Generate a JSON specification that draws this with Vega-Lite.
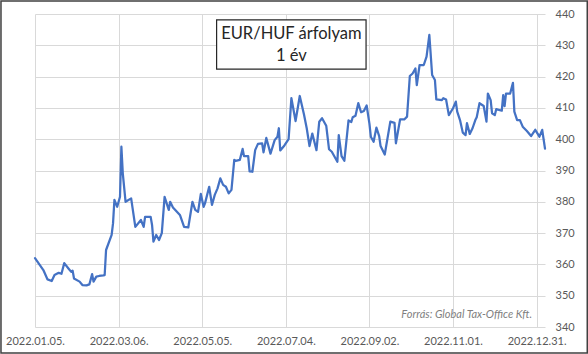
{
  "$schema": "https://vega.github.io/schema/vega-lite/v6.json",
  "width": 510,
  "height": 313,
  "autosize": {"type": "none"},
  "padding": {"left": 35, "top": 14, "right": 43, "bottom": 27},
  "background": "white",
  "config": {"view": {"stroke": null}, "font": "Lato"},
  "datasets": {
    "eurhuf": [
      {"date": "2022-01-05", "rate": 362.0},
      {"date": "2022-01-08", "rate": 360.1},
      {"date": "2022-01-11", "rate": 358.2},
      {"date": "2022-01-14", "rate": 355.2},
      {"date": "2022-01-17", "rate": 354.7},
      {"date": "2022-01-19", "rate": 356.6},
      {"date": "2022-01-22", "rate": 357.3},
      {"date": "2022-01-24", "rate": 357.0},
      {"date": "2022-01-26", "rate": 360.4},
      {"date": "2022-01-29", "rate": 358.7},
      {"date": "2022-01-31", "rate": 357.6},
      {"date": "2022-02-01", "rate": 358.0},
      {"date": "2022-02-02", "rate": 355.5},
      {"date": "2022-02-06", "rate": 354.5},
      {"date": "2022-02-08", "rate": 353.4},
      {"date": "2022-02-11", "rate": 353.3},
      {"date": "2022-02-13", "rate": 353.6},
      {"date": "2022-02-15", "rate": 356.9},
      {"date": "2022-02-16", "rate": 354.5},
      {"date": "2022-02-18", "rate": 356.1},
      {"date": "2022-02-20", "rate": 356.3},
      {"date": "2022-02-23", "rate": 356.5},
      {"date": "2022-02-24", "rate": 356.6},
      {"date": "2022-02-25", "rate": 364.6},
      {"date": "2022-03-01", "rate": 369.4},
      {"date": "2022-03-02", "rate": 373.1},
      {"date": "2022-03-03", "rate": 380.6},
      {"date": "2022-03-05", "rate": 378.4},
      {"date": "2022-03-07", "rate": 381.6},
      {"date": "2022-03-08", "rate": 397.6},
      {"date": "2022-03-09", "rate": 389.1},
      {"date": "2022-03-11", "rate": 380.0},
      {"date": "2022-03-15", "rate": 381.1},
      {"date": "2022-03-18", "rate": 372.0},
      {"date": "2022-03-22", "rate": 374.2},
      {"date": "2022-03-24", "rate": 372.0},
      {"date": "2022-03-25", "rate": 375.2},
      {"date": "2022-03-29", "rate": 375.2},
      {"date": "2022-03-30", "rate": 372.6},
      {"date": "2022-03-31", "rate": 367.3},
      {"date": "2022-04-02", "rate": 369.4},
      {"date": "2022-04-04", "rate": 367.8},
      {"date": "2022-04-06", "rate": 370.0},
      {"date": "2022-04-08", "rate": 381.6},
      {"date": "2022-04-11", "rate": 377.4},
      {"date": "2022-04-12", "rate": 380.0},
      {"date": "2022-04-14", "rate": 378.2},
      {"date": "2022-04-19", "rate": 375.8},
      {"date": "2022-04-22", "rate": 372.0},
      {"date": "2022-04-25", "rate": 371.8},
      {"date": "2022-04-28", "rate": 380.0},
      {"date": "2022-04-30", "rate": 377.4},
      {"date": "2022-05-02", "rate": 376.8},
      {"date": "2022-05-04", "rate": 382.5},
      {"date": "2022-05-06", "rate": 378.4},
      {"date": "2022-05-07", "rate": 379.5},
      {"date": "2022-05-10", "rate": 384.8},
      {"date": "2022-05-12", "rate": 379.0},
      {"date": "2022-05-14", "rate": 382.2},
      {"date": "2022-05-16", "rate": 384.3},
      {"date": "2022-05-18", "rate": 387.5},
      {"date": "2022-05-20", "rate": 385.4},
      {"date": "2022-05-22", "rate": 384.8},
      {"date": "2022-05-24", "rate": 382.7},
      {"date": "2022-05-26", "rate": 383.8},
      {"date": "2022-05-28", "rate": 393.4},
      {"date": "2022-05-29", "rate": 393.1},
      {"date": "2022-06-01", "rate": 393.4},
      {"date": "2022-06-03", "rate": 396.9},
      {"date": "2022-06-04", "rate": 394.6},
      {"date": "2022-06-07", "rate": 394.6},
      {"date": "2022-06-08", "rate": 389.7},
      {"date": "2022-06-10", "rate": 389.6},
      {"date": "2022-06-12", "rate": 396.5},
      {"date": "2022-06-14", "rate": 398.5},
      {"date": "2022-06-17", "rate": 398.7},
      {"date": "2022-06-18", "rate": 395.8},
      {"date": "2022-06-20", "rate": 400.4},
      {"date": "2022-06-23", "rate": 395.4},
      {"date": "2022-06-26", "rate": 399.7},
      {"date": "2022-06-28", "rate": 400.8},
      {"date": "2022-06-29", "rate": 403.5},
      {"date": "2022-06-30", "rate": 396.4},
      {"date": "2022-07-03", "rate": 398.0},
      {"date": "2022-07-06", "rate": 400.0},
      {"date": "2022-07-08", "rate": 413.1},
      {"date": "2022-07-11", "rate": 405.8},
      {"date": "2022-07-14", "rate": 413.8},
      {"date": "2022-07-17", "rate": 408.0},
      {"date": "2022-07-19", "rate": 403.5},
      {"date": "2022-07-21", "rate": 397.8},
      {"date": "2022-07-23", "rate": 401.8},
      {"date": "2022-07-26", "rate": 396.5},
      {"date": "2022-07-28", "rate": 405.6},
      {"date": "2022-07-30", "rate": 406.7},
      {"date": "2022-08-02", "rate": 404.3},
      {"date": "2022-08-04", "rate": 396.8},
      {"date": "2022-08-06", "rate": 396.0},
      {"date": "2022-08-10", "rate": 392.8},
      {"date": "2022-08-11", "rate": 401.3},
      {"date": "2022-08-13", "rate": 394.6},
      {"date": "2022-08-15", "rate": 393.1},
      {"date": "2022-08-18", "rate": 406.0},
      {"date": "2022-08-20", "rate": 405.5},
      {"date": "2022-08-21", "rate": 407.0},
      {"date": "2022-08-23", "rate": 407.5},
      {"date": "2022-08-25", "rate": 411.5},
      {"date": "2022-08-27", "rate": 408.6},
      {"date": "2022-08-29", "rate": 409.0},
      {"date": "2022-08-31", "rate": 410.8},
      {"date": "2022-09-02", "rate": 405.0},
      {"date": "2022-09-03", "rate": 400.8},
      {"date": "2022-09-05", "rate": 399.2},
      {"date": "2022-09-07", "rate": 403.7},
      {"date": "2022-09-09", "rate": 401.0},
      {"date": "2022-09-10", "rate": 397.8},
      {"date": "2022-09-13", "rate": 395.1},
      {"date": "2022-09-17", "rate": 405.6},
      {"date": "2022-09-20", "rate": 405.2},
      {"date": "2022-09-21", "rate": 398.7},
      {"date": "2022-09-24", "rate": 406.3},
      {"date": "2022-09-27", "rate": 406.3},
      {"date": "2022-09-29", "rate": 407.2},
      {"date": "2022-10-01", "rate": 420.2},
      {"date": "2022-10-03", "rate": 421.0},
      {"date": "2022-10-05", "rate": 422.6},
      {"date": "2022-10-06", "rate": 417.3},
      {"date": "2022-10-08", "rate": 423.7},
      {"date": "2022-10-11", "rate": 423.7},
      {"date": "2022-10-13", "rate": 426.4},
      {"date": "2022-10-15", "rate": 433.3},
      {"date": "2022-10-17", "rate": 420.5},
      {"date": "2022-10-19", "rate": 418.9},
      {"date": "2022-10-20", "rate": 412.7},
      {"date": "2022-10-24", "rate": 412.5},
      {"date": "2022-10-25", "rate": 413.1},
      {"date": "2022-10-27", "rate": 412.7},
      {"date": "2022-10-29", "rate": 407.7},
      {"date": "2022-11-01", "rate": 409.9},
      {"date": "2022-11-03", "rate": 412.0},
      {"date": "2022-11-04", "rate": 408.8},
      {"date": "2022-11-06", "rate": 406.1},
      {"date": "2022-11-08", "rate": 402.1},
      {"date": "2022-11-10", "rate": 401.3},
      {"date": "2022-11-11", "rate": 405.1},
      {"date": "2022-11-13", "rate": 401.7},
      {"date": "2022-11-15", "rate": 403.5},
      {"date": "2022-11-17", "rate": 406.1},
      {"date": "2022-11-18", "rate": 407.0},
      {"date": "2022-11-20", "rate": 411.5},
      {"date": "2022-11-23", "rate": 410.6},
      {"date": "2022-11-25", "rate": 405.6},
      {"date": "2022-11-26", "rate": 414.6},
      {"date": "2022-11-28", "rate": 412.5},
      {"date": "2022-11-29", "rate": 408.3},
      {"date": "2022-12-01", "rate": 407.7},
      {"date": "2022-12-02", "rate": 409.6},
      {"date": "2022-12-06", "rate": 409.1},
      {"date": "2022-12-07", "rate": 414.1},
      {"date": "2022-12-08", "rate": 410.6},
      {"date": "2022-12-09", "rate": 414.6},
      {"date": "2022-12-12", "rate": 414.6},
      {"date": "2022-12-14", "rate": 418.0},
      {"date": "2022-12-15", "rate": 408.8},
      {"date": "2022-12-17", "rate": 406.1},
      {"date": "2022-12-19", "rate": 406.1},
      {"date": "2022-12-21", "rate": 404.0},
      {"date": "2022-12-24", "rate": 402.6},
      {"date": "2022-12-27", "rate": 401.0},
      {"date": "2022-12-30", "rate": 403.0},
      {"date": "2023-01-02", "rate": 400.8},
      {"date": "2023-01-04", "rate": 403.0},
      {"date": "2023-01-06", "rate": 397.0}
    ]
  },
  "layer": [
    {
      "data": {"name": "eurhuf"},
      "mark": {"type": "line", "color": "#4472C4", "strokeWidth": 2.25, "strokeJoin": "round", "strokeCap": "round"},
      "encoding": {
        "x": {
          "field": "date", "type": "temporal", "title": null,
          "scale": {"type": "utc", "domain": [{"year": 2022, "month": 1, "date": 5, "utc": true}, {"year": 2023, "month": 1, "date": 6, "utc": true}], "nice": false},
          "axis": {
            "values": [
              {"year": 2022, "month": 1, "date": 5, "utc": true},
              {"year": 2022, "month": 3, "date": 6, "utc": true},
              {"year": 2022, "month": 5, "date": 5, "utc": true},
              {"year": 2022, "month": 7, "date": 4, "utc": true},
              {"year": 2022, "month": 9, "date": 2, "utc": true},
              {"year": 2022, "month": 11, "date": 1, "utc": true},
              {"year": 2022, "month": 12, "date": 31, "utc": true}
            ],
            "labelExpr": "utcFormat(datum.value, '%Y.%m.%d.')",
            "grid": true, "gridColor": "#d9d9d9", "gridWidth": 1,
            "domain": false, "ticks": false,
            "labelFlush": false, "labelOverlap": false, "labelBound": false,
            "labelPadding": 8, "labelFontSize": 11, "labelColor": "#595959", "labelFont": "Lato"
          }
        },
        "y": {
          "field": "rate", "type": "quantitative", "title": null,
          "scale": {"domain": [340, 440], "nice": false, "zero": false},
          "axis": {
            "orient": "right",
            "values": [340, 350, 360, 370, 380, 390, 400, 410, 420, 430, 440],
            "grid": true, "gridColor": "#d9d9d9", "gridWidth": 1,
            "domain": false, "ticks": false,
            "labelPadding": 10, "labelFontSize": 11, "labelColor": "#595959", "labelFont": "Lato"
          }
        }
      }
    },
    {
      "data": {"values": [{}]},
      "mark": {"type": "rect", "fill": "white", "stroke": "#262626", "strokeWidth": 1.2},
      "encoding": {
        "x": {"datum": {"year": 2022, "month": 5, "date": 15, "hours": 8, "utc": true}, "type": "temporal", "title": null,
          "scale": {"type": "utc", "domain": [{"year": 2022, "month": 1, "date": 5, "utc": true}, {"year": 2023, "month": 1, "date": 6, "utc": true}], "nice": false},
          "axis": {
            "values": [
              {"year": 2022, "month": 1, "date": 5, "utc": true},
              {"year": 2022, "month": 3, "date": 6, "utc": true},
              {"year": 2022, "month": 5, "date": 5, "utc": true},
              {"year": 2022, "month": 7, "date": 4, "utc": true},
              {"year": 2022, "month": 9, "date": 2, "utc": true},
              {"year": 2022, "month": 11, "date": 1, "utc": true},
              {"year": 2022, "month": 12, "date": 31, "utc": true}
            ],
            "labelExpr": "utcFormat(datum.value, '%Y.%m.%d.')",
            "grid": true, "gridColor": "#d9d9d9", "gridWidth": 1,
            "domain": false, "ticks": false,
            "labelFlush": false, "labelOverlap": false, "labelBound": false,
            "labelPadding": 8, "labelFontSize": 11, "labelColor": "#595959", "labelFont": "Lato"
          }},
        "x2": {"datum": {"year": 2022, "month": 8, "date": 30, "hours": 14, "utc": true}},
        "y": {"datum": 438.1, "type": "quantitative", "title": null,
          "scale": {"domain": [340, 440], "nice": false, "zero": false},
          "axis": {
            "orient": "right",
            "values": [340, 350, 360, 370, 380, 390, 400, 410, 420, 430, 440],
            "grid": true, "gridColor": "#d9d9d9", "gridWidth": 1,
            "domain": false, "ticks": false,
            "labelPadding": 10, "labelFontSize": 11, "labelColor": "#595959", "labelFont": "Lato"
          }},
        "y2": {"datum": 422.4}
      }
    },
    {
      "data": {"values": [{}]},
      "mark": {"type": "text", "text": ["EUR/HUF árfolyam", "1 év"], "font": "Lato", "fontSize": 16.5, "lineHeight": 22, "color": "#262626", "align": "center", "baseline": "middle"},
      "encoding": {
        "x": {"datum": {"year": 2022, "month": 7, "date": 8, "utc": true}, "type": "temporal", "title": null,
          "scale": {"type": "utc", "domain": [{"year": 2022, "month": 1, "date": 5, "utc": true}, {"year": 2023, "month": 1, "date": 6, "utc": true}], "nice": false},
          "axis": {
            "values": [
              {"year": 2022, "month": 1, "date": 5, "utc": true},
              {"year": 2022, "month": 3, "date": 6, "utc": true},
              {"year": 2022, "month": 5, "date": 5, "utc": true},
              {"year": 2022, "month": 7, "date": 4, "utc": true},
              {"year": 2022, "month": 9, "date": 2, "utc": true},
              {"year": 2022, "month": 11, "date": 1, "utc": true},
              {"year": 2022, "month": 12, "date": 31, "utc": true}
            ],
            "labelExpr": "utcFormat(datum.value, '%Y.%m.%d.')",
            "grid": true, "gridColor": "#d9d9d9", "gridWidth": 1,
            "domain": false, "ticks": false,
            "labelFlush": false, "labelOverlap": false, "labelBound": false,
            "labelPadding": 8, "labelFontSize": 11, "labelColor": "#595959", "labelFont": "Lato"
          }},
        "y": {"datum": 433.5, "type": "quantitative", "title": null,
          "scale": {"domain": [340, 440], "nice": false, "zero": false},
          "axis": {
            "orient": "right",
            "values": [340, 350, 360, 370, 380, 390, 400, 410, 420, 430, 440],
            "grid": true, "gridColor": "#d9d9d9", "gridWidth": 1,
            "domain": false, "ticks": false,
            "labelPadding": 10, "labelFontSize": 11, "labelColor": "#595959", "labelFont": "Lato"
          }}
      }
    },
    {
      "data": {"values": [{}]},
      "mark": {"type": "text", "text": "Forrás: Global Tax-Office Kft.", "font": "Lato", "fontSize": 11, "fontStyle": "italic", "color": "#7f7f7f", "align": "right", "baseline": "middle"},
      "encoding": {
        "x": {"datum": {"year": 2022, "month": 12, "date": 27, "hours": 18, "utc": true}, "type": "temporal", "title": null,
          "scale": {"type": "utc", "domain": [{"year": 2022, "month": 1, "date": 5, "utc": true}, {"year": 2023, "month": 1, "date": 6, "utc": true}], "nice": false},
          "axis": {
            "values": [
              {"year": 2022, "month": 1, "date": 5, "utc": true},
              {"year": 2022, "month": 3, "date": 6, "utc": true},
              {"year": 2022, "month": 5, "date": 5, "utc": true},
              {"year": 2022, "month": 7, "date": 4, "utc": true},
              {"year": 2022, "month": 9, "date": 2, "utc": true},
              {"year": 2022, "month": 11, "date": 1, "utc": true},
              {"year": 2022, "month": 12, "date": 31, "utc": true}
            ],
            "labelExpr": "utcFormat(datum.value, '%Y.%m.%d.')",
            "grid": true, "gridColor": "#d9d9d9", "gridWidth": 1,
            "domain": false, "ticks": false,
            "labelFlush": false, "labelOverlap": false, "labelBound": false,
            "labelPadding": 8, "labelFontSize": 11, "labelColor": "#595959", "labelFont": "Lato"
          }},
        "y": {"datum": 343.8, "type": "quantitative", "title": null,
          "scale": {"domain": [340, 440], "nice": false, "zero": false},
          "axis": {
            "orient": "right",
            "values": [340, 350, 360, 370, 380, 390, 400, 410, 420, 430, 440],
            "grid": true, "gridColor": "#d9d9d9", "gridWidth": 1,
            "domain": false, "ticks": false,
            "labelPadding": 10, "labelFontSize": 11, "labelColor": "#595959", "labelFont": "Lato"
          }}
      }
    },
    {
      "data": {"values": [{}]},
      "mark": {"type": "rect", "fill": null, "stroke": "#404040", "strokeWidth": 1.5},
      "encoding": {
        "x": {"datum": {"year": 2021, "month": 12, "date": 11, "hours": 14, "utc": true}, "type": "temporal", "title": null,
          "scale": {"type": "utc", "domain": [{"year": 2022, "month": 1, "date": 5, "utc": true}, {"year": 2023, "month": 1, "date": 6, "utc": true}], "nice": false},
          "axis": {
            "values": [
              {"year": 2022, "month": 1, "date": 5, "utc": true},
              {"year": 2022, "month": 3, "date": 6, "utc": true},
              {"year": 2022, "month": 5, "date": 5, "utc": true},
              {"year": 2022, "month": 7, "date": 4, "utc": true},
              {"year": 2022, "month": 9, "date": 2, "utc": true},
              {"year": 2022, "month": 11, "date": 1, "utc": true},
              {"year": 2022, "month": 12, "date": 31, "utc": true}
            ],
            "labelExpr": "utcFormat(datum.value, '%Y.%m.%d.')",
            "grid": true, "gridColor": "#d9d9d9", "gridWidth": 1,
            "domain": false, "ticks": false,
            "labelFlush": false, "labelOverlap": false, "labelBound": false,
            "labelPadding": 8, "labelFontSize": 11, "labelColor": "#595959", "labelFont": "Lato"
          }},
        "x2": {"datum": {"year": 2023, "month": 2, "date": 5, "hours": 8, "utc": true}},
        "y": {"datum": 444.15, "type": "quantitative", "title": null,
          "scale": {"domain": [340, 440], "nice": false, "zero": false},
          "axis": {
            "orient": "right",
            "values": [340, 350, 360, 370, 380, 390, 400, 410, 420, 430, 440],
            "grid": true, "gridColor": "#d9d9d9", "gridWidth": 1,
            "domain": false, "ticks": false,
            "labelPadding": 10, "labelFontSize": 11, "labelColor": "#595959", "labelFont": "Lato"
          }},
        "y2": {"datum": 331.7}
      }
    }
  ]
}
